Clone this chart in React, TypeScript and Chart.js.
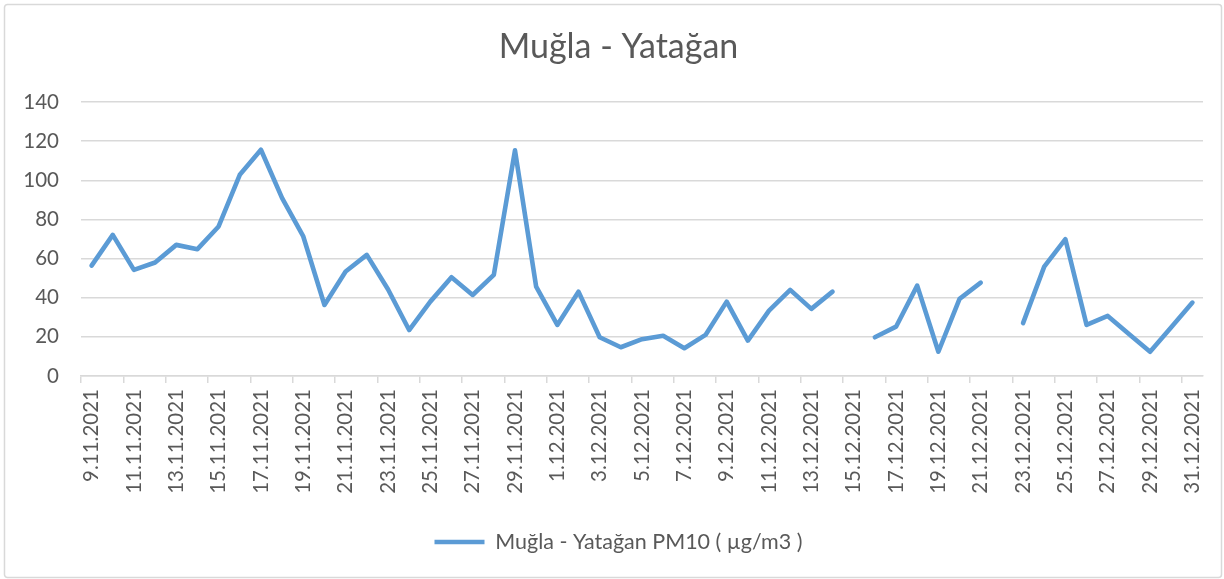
import React, { useEffect, useRef } from "react";
import { Chart, registerables } from "chart.js";

Chart.register(...registerables);

const chartTitle = "Muğla - Yatağan";
const seriesName = "Muğla - Yatağan PM10 ( µg/m3 )";

const dates = [
  "9.11.2021", "10.11.2021", "11.11.2021", "12.11.2021", "13.11.2021", "14.11.2021",
  "15.11.2021", "16.11.2021", "17.11.2021", "18.11.2021", "19.11.2021", "20.11.2021",
  "21.11.2021", "22.11.2021", "23.11.2021", "24.11.2021", "25.11.2021", "26.11.2021",
  "27.11.2021", "28.11.2021", "29.11.2021", "30.11.2021",
  "1.12.2021", "2.12.2021", "3.12.2021", "4.12.2021", "5.12.2021", "6.12.2021",
  "7.12.2021", "8.12.2021", "9.12.2021", "10.12.2021", "11.12.2021", "12.12.2021",
  "13.12.2021", "14.12.2021", "15.12.2021", "16.12.2021", "17.12.2021", "18.12.2021",
  "19.12.2021", "20.12.2021", "21.12.2021", "22.12.2021", "23.12.2021", "24.12.2021",
  "25.12.2021", "26.12.2021", "27.12.2021", "28.12.2021", "29.12.2021", "30.12.2021",
  "31.12.2021",
];

const pm10 = [
  56.4, 72.1, 54.2, 58, 67, 64.8, 76.4, 102.8, 115.6, 90.9, 71.3, 36.3,
  53.4, 61.9, 44.3, 23.5, 38, 50.5, 41.4, 51.7, 115.3, 45.7,
  26.1, 43.1, 19.8, 14.7, 18.8, 20.6, 14.2, 21, 38, 18.1, 33.4, 44,
  34.3, 43.1, null, 19.8, 25.2, 46.2, 12.4, 39.4, 47.7, null, 27, 55.9,
  69.9, 26.1, 30.7, 21.5, 12.4, 24.9, 37.5,
];

const yMin = 0;
const yMax = 140;
const yStep = 20;

const FONT = "Lato, 'Open Sans', sans-serif";
const TEXT = "#595959";
const GRID = "#d9d9d9";
const LINE = "#5B9BD5";

const frame = {
  id: "frame",
  beforeDraw(chart: any) {
    const { ctx, width, height } = chart;
    ctx.save();
    ctx.fillStyle = "#ffffff";
    ctx.fillRect(0, 0, width, height);
    ctx.strokeStyle = GRID;
    ctx.lineWidth = 1.5;
    ctx.beginPath();
    (ctx as any).roundRect(4.5, 4.5, width - 7, height - 6, 3);
    ctx.stroke();
    ctx.restore();
  },
};

const boxShift = {
  id: "boxShift",
  afterLayout(chart: any) {
    const lg = chart.legend;
    if (lg) {
      lg.left += 17;
      lg.right += 17;
    }
    const tt = chart.titleBlock;
    if (tt) {
      tt.left += 17;
      tt.right += 17;
    }
  },
};

export default function App() {
  const ref = useRef<HTMLCanvasElement | null>(null);

  useEffect(() => {
    if (!ref.current) return;
    const chart = new Chart(ref.current, {
      type: "line",
      data: {
        labels: dates,
        datasets: [
          {
            label: seriesName,
            data: pm10 as any,
            borderColor: LINE,
            backgroundColor: LINE,
            borderWidth: 4.6,
            pointRadius: 0,
            pointHoverRadius: 0,
            borderCapStyle: "round",
            borderJoinStyle: "round",
            tension: 0,
            spanGaps: false,
            pointStyle: "line",
          },
        ],
      },
      options: {
        responsive: false,
        animation: false,
        layout: { padding: { left: 0, right: 21, top: 0, bottom: 16.25 } },
        plugins: {
          title: {
            display: true,
            text: chartTitle,
            color: TEXT,
            font: { family: FONT, size: 34, weight: "normal", lineHeight: 1.2 },
            padding: { top: 26.6, bottom: 34.6 },
          },
          legend: {
            display: true,
            position: "bottom",
            labels: {
              color: TEXT,
              font: { family: FONT, size: 21.5 },
              usePointStyle: true,
              pointStyleWidth: 50,
              padding: 10,
            },
          },
          tooltip: { enabled: false },
        },
        scales: {
          x: {
            type: "category",
            offset: true,
            afterFit(scale: any) {
              scale.height = 145.25;
            },
            grid: {
              display: true,
              drawOnChartArea: false,
              drawTicks: true,
              tickLength: 7,
              offset: true,
              lineWidth: 1.5,
              tickColor: (ctx: any) => (ctx.index % 2 === 0 ? GRID : "rgba(0,0,0,0)"),
            },
            border: { display: true, color: GRID, width: 1.5 },
            ticks: {
              autoSkip: false,
              maxRotation: 90,
              minRotation: 90,
              padding: 6,
              color: TEXT,
              font: { family: FONT, size: 20.5 },
              callback: function (this: any, value: any, index: number) {
                return index % 2 === 0 ? this.getLabelForValue(value) : "";
              },
            },
          },
          y: {
            min: yMin,
            max: yMax,
            afterFit(scale: any) {
              scale.width = 81;
            },
            grid: {
              color: GRID,
              lineWidth: 1.5,
              drawTicks: false,
            },
            border: { display: false },
            ticks: {
              stepSize: yStep,
              padding: 22,
              color: TEXT,
              font: { family: FONT, size: 20.5 },
            },
          },
        },
      },
      plugins: [frame, boxShift],
    });
    return () => chart.destroy();
  }, []);

  return (
    <div style={{ position: "absolute", left: 0, top: 0, width: 1224, height: 579 }}>
      <canvas ref={ref} width={1224} height={579} />
    </div>
  );
}
